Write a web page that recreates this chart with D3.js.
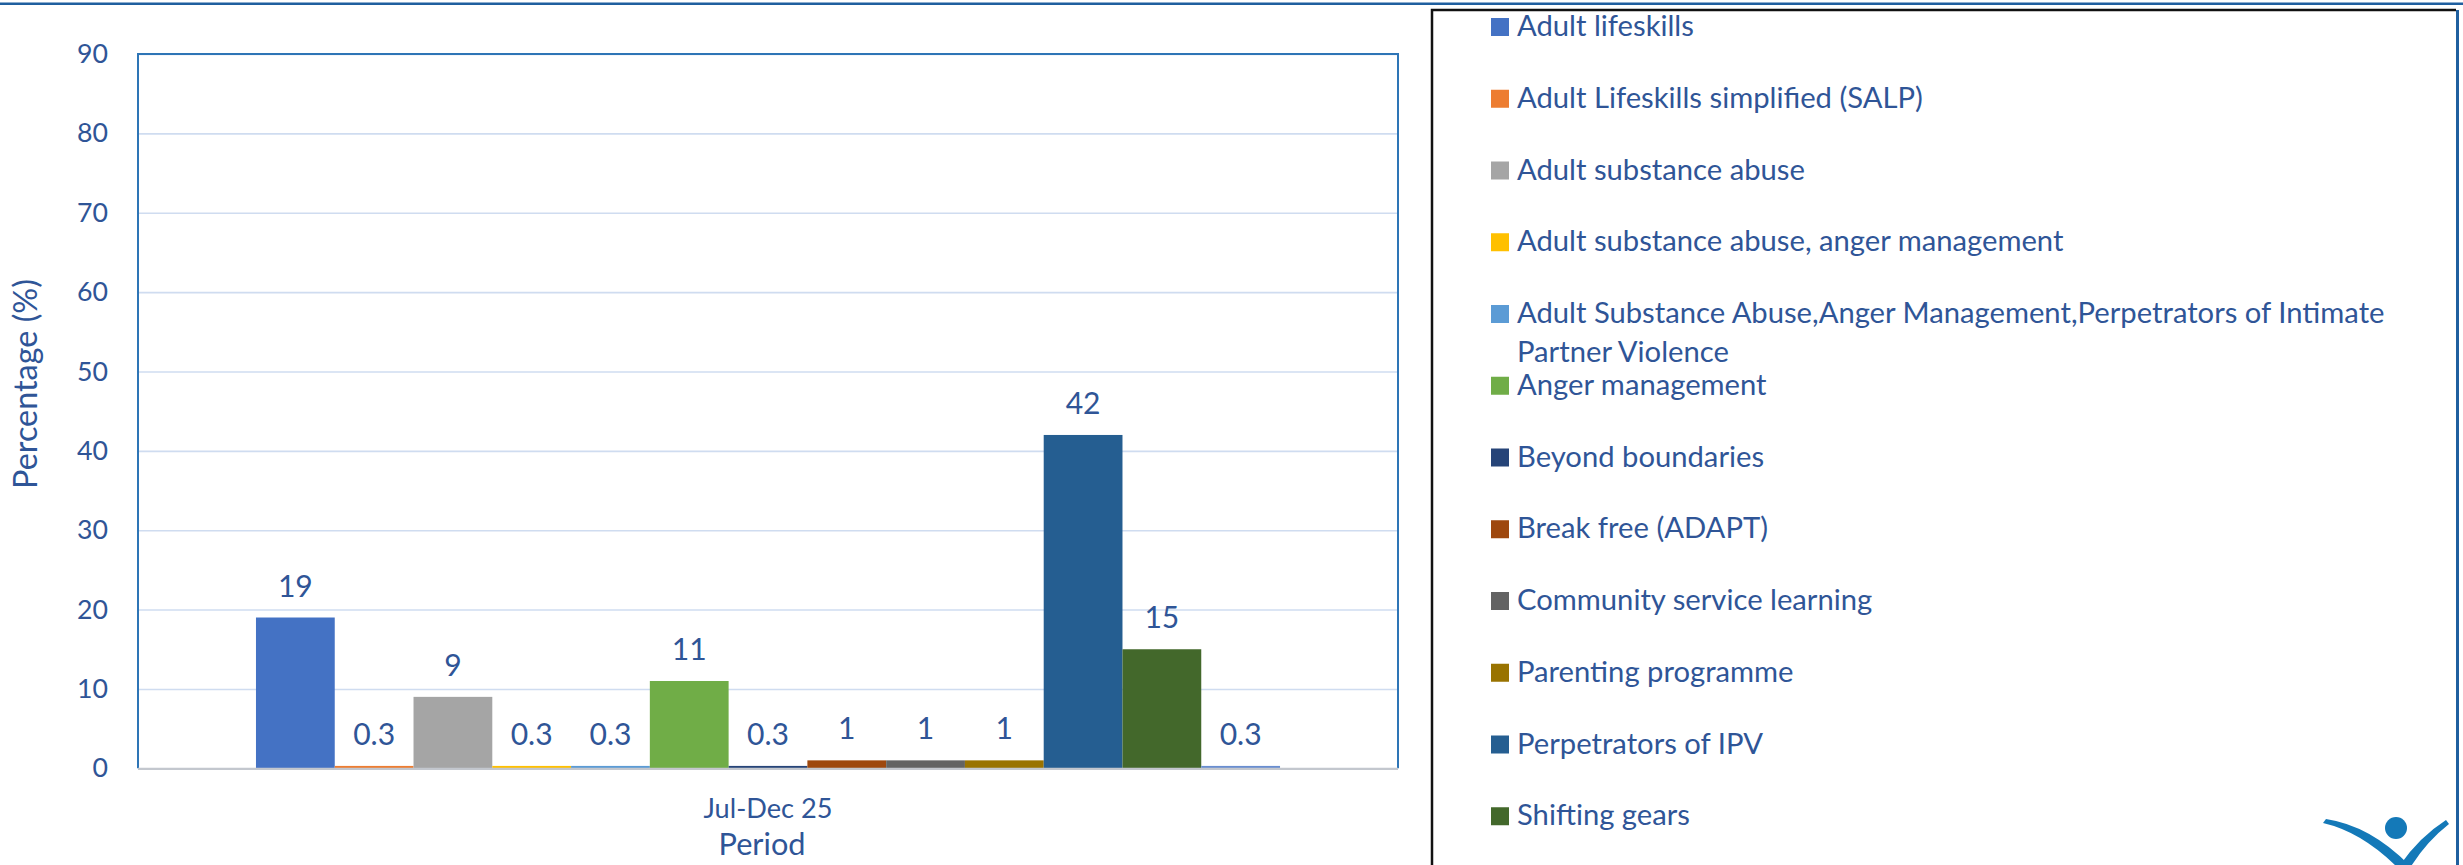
<!DOCTYPE html>
<html>
<head>
<meta charset="utf-8">
<script src="https://cdn.jsdelivr.net/npm/d3@7"></script>
<style>
  body { margin: 0; background: #fff; }
  svg text { font-family: Lato, "Open Sans", sans-serif; fill: #2F5597; }
</style>
</head>
<body>
<div id="chart"></div>
<script>
// programmes (series), one bar each for the single period
const programmes = [
  "Adult lifeskills",
  "Adult Lifeskills simplified (SALP)",
  "Adult substance abuse",
  "Adult substance abuse, anger management",
  "Adult Substance Abuse,Anger Management,Perpetrators of Intimate Partner Violence",
  "Anger management",
  "Beyond boundaries",
  "Break free (ADAPT)",
  "Community service learning",
  "Parenting programme",
  "Perpetrators of IPV",
  "Shifting gears",
  "Other"
];
const percentages = [19, 0.3, 9, 0.3, 0.3, 11, 0.3, 1, 1, 1, 42, 15, 0.3];
const colours = [
  "#4472C4", "#ED7D31", "#A5A5A5", "#FFC000", "#5B9BD5", "#70AD47",
  "#264478", "#9E480E", "#636363", "#997300", "#255E91", "#43682B", "#698ED0"
];
const periods = ["Jul-Dec 25"];
const yTicks = [0, 10, 20, 30, 40, 50, 60, 70, 80, 90];

const W = 2463, H = 865;
const plot = { left: 138, top: 54, right: 1398, bottom: 768.3 };

const svg = d3.select("#chart").append("svg")
  .attr("width", W).attr("height", H);

// pick a font size so that a sample string gets the width seen in the picture
function fitSize(str, targetWidth) {
  const probe = svg.append("text").attr("font-size", 100).text(str);
  const w = probe.node().getComputedTextLength();
  probe.remove();
  return 100 * targetWidth / w;
}
const tickSize = fitSize("60", 31);
const labelSize = fitSize("0.3", 42);
const catSize = fitSize("Jul-Dec 25", 129);
const titleSize = fitSize("Period", 87);
const yTitleSize = fitSize("Percentage (%)", 210);
const legendSize = fitSize("Adult lifeskills", 177);

// top rule
svg.append("line")
  .attr("x1", 0).attr("x2", W).attr("y1", 3.7).attr("y2", 3.7)
  .attr("stroke", "#1F5F9F").attr("stroke-width", 2.5);

// scales
const y = d3.scaleLinear().domain([0, 90]).range([plot.bottom, plot.top]);
const x0 = d3.scaleBand().domain(periods)
  .range([plot.left, plot.right])
  .paddingInner(0).paddingOuter(0.1152);
const x1 = d3.scaleBand().domain(programmes)
  .range([0, x0.bandwidth()]).padding(0);

// gridlines + tick labels
const yAxis = d3.axisLeft(y).tickValues(yTicks)
  .tickSize(-(plot.right - plot.left)).tickPadding(30);
const yAxisG = svg.append("g")
  .attr("transform", `translate(${plot.left},0)`)
  .call(yAxis);
yAxisG.select(".domain").remove();
yAxisG.selectAll(".tick line")
  .attr("stroke", "#CFDCF0").attr("stroke-width", 1.6);
yAxisG.selectAll(".tick text")
  .attr("font-size", tickSize).attr("fill", "#2F5597")
  .style("font-family", "Lato, 'Open Sans', sans-serif");

// bars
const group = svg.append("g").selectAll("g")
  .data(periods).join("g")
  .attr("transform", d => `translate(${x0(d)},0)`);

const rows = programmes.map((p, i) => ({ name: p, value: percentages[i], colour: colours[i] }));

group.selectAll("rect")
  .data(rows).join("rect")
  .attr("x", d => x1(d.name))
  .attr("y", d => y(d.value))
  .attr("width", x1.bandwidth())
  .attr("height", d => y(0) - y(d.value))
  .attr("fill", d => d.colour);

group.selectAll("text.value")
  .data(rows).join("text")
  .attr("class", "value")
  .attr("x", d => x1(d.name) + x1.bandwidth() / 2)
  .attr("y", d => y(d.value) - 21)
  .attr("text-anchor", "middle")
  .attr("font-size", labelSize)
  .text(d => d.value);

// plot frame: blue left/top/right, grey baseline
svg.append("path")
  .attr("d", `M${plot.left},${plot.bottom}V${plot.top}H${plot.right}V${plot.bottom}`)
  .attr("fill", "none").attr("stroke", "#2E75B6").attr("stroke-width", 2);
svg.append("line")
  .attr("x1", plot.left).attr("x2", plot.right)
  .attr("y1", plot.bottom + 0.5).attr("y2", plot.bottom + 0.5)
  .attr("stroke", "#C3C7CE").attr("stroke-width", 2.2);

// category axis
const xAxisG = svg.append("g")
  .attr("transform", `translate(0,${plot.bottom})`)
  .call(d3.axisBottom(x0).tickSize(0));
xAxisG.select(".domain").remove();
xAxisG.selectAll(".tick text")
  .attr("y", 50).attr("dy", 0)
  .attr("font-size", catSize).attr("fill", "#2F5597")
  .style("font-family", "Lato, 'Open Sans', sans-serif");

// axis titles
svg.append("text")
  .attr("x", (plot.left + plot.right) / 2 - 6).attr("y", 855)
  .attr("text-anchor", "middle").attr("font-size", titleSize)
  .text("Period");

svg.append("text")
  .attr("transform", "translate(37,384) rotate(-90)")
  .attr("text-anchor", "middle").attr("font-size", yTitleSize)
  .text("Percentage (%)");

// legend
const legendBox = { x: 1432, y: 10, right: 2456 };
svg.append("path")
  .attr("d", `M${legendBox.x},${H + 5}V${legendBox.y}H${legendBox.right}`)
  .attr("fill", "none").attr("stroke", "#111").attr("stroke-width", 2.5);
svg.append("line")
  .attr("x1", 2457.5).attr("x2", 2457.5).attr("y1", legendBox.y).attr("y2", H)
  .attr("stroke", "#1F5F9F").attr("stroke-width", 3);

const legendStep = 71.75, legendFirst = 27, markerSize = 18;
const textX = 1517, maxTextWidth = 925;

// the legend runs past the bottom edge: only the rows that fit are drawn
const legendRows = rows.filter((d, i) => legendFirst + i * legendStep + markerSize < H);

const item = svg.append("g").selectAll("g")
  .data(legendRows).join("g")
  .attr("transform", (d, i) => `translate(0,${legendFirst + i * legendStep})`);

item.append("rect")
  .attr("x", 1491).attr("y", -markerSize / 2)
  .attr("width", markerSize).attr("height", markerSize)
  .attr("fill", d => d.colour);

item.append("text")
  .attr("x", textX).attr("y", 9)
  .attr("font-size", legendSize)
  .each(function (d) {
    // simple word wrap for long names
    const t = d3.select(this);
    const words = d.name.split(" ");
    let line = [];
    let tspan = t.append("tspan").attr("x", textX).attr("dy", 0);
    words.forEach(w => {
      line.push(w);
      tspan.text(line.join(" "));
      if (tspan.node().getComputedTextLength() > maxTextWidth && line.length > 1) {
        line.pop();
        tspan.text(line.join(" "));
        line = [w];
        tspan = t.append("tspan").attr("x", textX).attr("dy", 39).text(w);
      }
    });
  });

// logo in the corner
const logo = svg.append("g").attr("fill", "#1479B8");
logo.append("circle").attr("cx", 2396).attr("cy", 828).attr("r", 11);
logo.append("path")
  .attr("d", "M2323,823 Q2362,832 2398,868 L2412,868 Q2372,826 2326,819 Z");
logo.append("path")
  .attr("d", "M2446,820 Q2418,838 2398,868 L2410,868 Q2426,842 2449,824 Z");
</script>
</body>
</html>
